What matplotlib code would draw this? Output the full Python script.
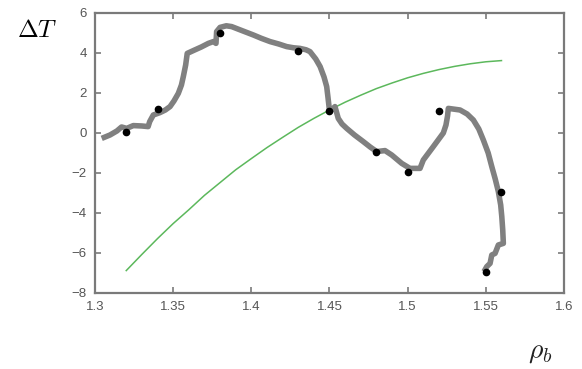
import matplotlib
matplotlib.use("Agg")
import matplotlib.pyplot as plt

plt.rcParams["mathtext.fontset"] = "cm"
plt.rcParams["font.family"] = ["Liberation Sans", "DejaVu Sans"]

# measured temperature difference at each density
rho_pts = [1.32, 1.34, 1.38, 1.43, 1.45, 1.48, 1.50, 1.52, 1.56, 1.55]
dT_pts = [0.05, 1.2, 5.0, 4.1, 1.1, -0.95, -1.93, 1.1, -2.93, -6.93]

# model trajectory (thick gray path)
path_rho = [1.3043, 1.3096, 1.3140, 1.3170, 1.3203, 1.3245, 1.3300, 1.3340,
            1.3350, 1.3373, 1.3416, 1.3450, 1.3480, 1.3505, 1.3533, 1.3553,
            1.3565, 1.3580, 1.3590, 1.3629, 1.3680, 1.3725, 1.3757, 1.3774,
            1.3778, 1.3800, 1.3840, 1.3874, 1.3940, 1.4013, 1.4065, 1.4120,
            1.4175, 1.4226, 1.4270, 1.4311, 1.4350, 1.4375, 1.4412, 1.4440,
            1.4465, 1.4482, 1.4490, 1.4497, 1.4500, 1.4535, 1.4556, 1.4580,
            1.4610, 1.4660, 1.4716, 1.4760, 1.4802, 1.4855, 1.4898, 1.4962,
            1.5015, 1.5079, 1.5100, 1.5164, 1.5228, 1.5245, 1.5255, 1.5260,
            1.5335, 1.5380, 1.5420, 1.5455, 1.5484, 1.5515, 1.5538, 1.5560,
            1.5580, 1.5595, 1.5602, 1.5608, 1.5612, 1.5580, 1.5559, 1.5538,
            1.5527, 1.5506, 1.5488]
path_dT = [-0.27, -0.10, 0.10, 0.30, 0.23, 0.37, 0.35, 0.32,
           0.57, 0.90, 1.02, 1.15, 1.32, 1.60, 1.98, 2.40,
           2.82, 3.40, 3.98, 4.12, 4.30, 4.48, 4.57, 4.48,
           5.07, 5.28, 5.36, 5.32, 5.12, 4.90, 4.73, 4.57,
           4.45, 4.32, 4.26, 4.23, 4.16, 4.07, 3.70, 3.32,
           2.80, 2.32, 1.80, 1.32, 1.05, 1.32, 0.73, 0.45,
           0.23, -0.10, -0.43, -0.70, -0.93, -0.88, -1.10, -1.52,
           -1.77, -1.77, -1.35, -0.68, 0.00, 0.40, 0.85, 1.23,
           1.15, 0.95, 0.65, 0.20, -0.35, -1.00, -1.68, -2.30,
           -2.93, -3.60, -4.18, -4.85, -5.52, -5.60, -6.02, -6.10,
           -6.52, -6.68, -6.93]

# fitted trend (thin green curve)
fit_rho = [1.32, 1.33, 1.34, 1.35, 1.36, 1.37, 1.38, 1.39, 1.40, 1.41, 1.42,
           1.43, 1.44, 1.45, 1.46, 1.47, 1.48, 1.49, 1.50, 1.51, 1.52, 1.53,
           1.54, 1.55, 1.56]
fit_dT = [-6.88, -6.07, -5.28, -4.53, -3.84, -3.12, -2.48, -1.84, -1.28, -0.73,
          -0.22, 0.28, 0.73, 1.15, 1.54, 1.89, 2.22, 2.50, 2.76, 2.98, 3.17,
          3.33, 3.46, 3.56, 3.62]

x_ticks = [1.3, 1.35, 1.4, 1.45, 1.5, 1.55, 1.6]
x_tick_labels = ["1.3", "1.35", "1.4", "1.45", "1.5", "1.55", "1.6"]
y_ticks = [-8, -6, -4, -2, 0, 2, 4, 6]

fig = plt.figure(figsize=(5.82, 3.69), dpi=100)
ax = fig.add_axes([0.1632, 0.206, 0.8059, 0.7588])

ax.plot(fit_rho, fit_dT, color="#5cb85c", lw=1.1, zorder=2)
ax.plot(path_rho, path_dT, color="#808080", lw=4.0, solid_capstyle="butt",
        solid_joinstyle="round", zorder=3)
ax.plot(rho_pts, dT_pts, "o", color="black", ms=4.5, zorder=4)

ax.set_xlim(1.3, 1.6)
ax.set_ylim(-8, 6)
ax.set_xticks(x_ticks)
ax.set_xticklabels(x_tick_labels)
ax.set_yticks(y_ticks)

spine_col = "#7a7a7a"
for s in ax.spines.values():
    s.set_color(spine_col)
    s.set_linewidth(1.6)
ax.tick_params(direction="in", top=True, right=True, length=4, width=1.2,
               color=spine_col, labelcolor="#555555", labelsize=9.5, pad=6)

fig.text(0.064, 0.92, r"$\Delta T$", fontsize=18, ha="center", va="center")
fig.text(0.928, 0.045, r"$\rho_b$", fontsize=20, ha="center", va="center",
         color="#222222")

fig.savefig("out.png", dpi=100)
